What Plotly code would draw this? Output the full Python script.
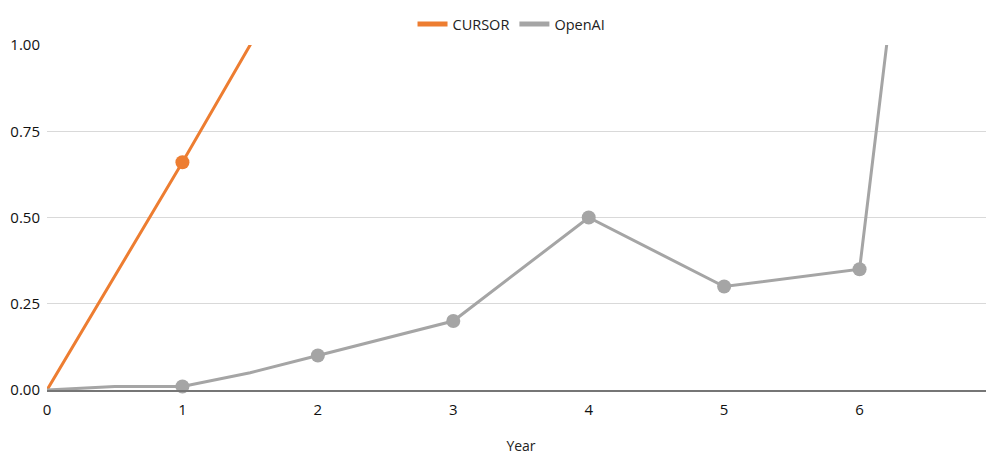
import plotly.graph_objects as go

cursor_x = [0, 1, 2]
cursor_y = [0, 0.66, 1.34]
cursor_marker_x = [1]
cursor_marker_y = [0.66]

openai_x = [0, 0.5, 1, 1.5, 2, 3, 4, 5, 6, 7]
openai_y = [0, 0.01, 0.01, 0.05, 0.10, 0.20, 0.50, 0.30, 0.35, 3.6]
openai_marker_x = [1, 2, 3, 4, 5, 6]
openai_marker_y = [0.01, 0.10, 0.20, 0.50, 0.30, 0.35]

x_ticks = [0, 1, 2, 3, 4, 5, 6, 7]

ORANGE = "#ED7D31"
GRAY = "#A5A5A5"
FONT = "Open Sans"

fig = go.Figure()
fig.add_trace(go.Scatter(x=cursor_x, y=cursor_y, mode="lines",
                         line=dict(color=ORANGE, width=3), showlegend=False, hoverinfo="skip"))
fig.add_trace(go.Scatter(x=cursor_marker_x, y=cursor_marker_y, mode="markers",
                         marker=dict(color=ORANGE, size=14), showlegend=False, cliponaxis=False))
fig.add_trace(go.Scatter(x=openai_x, y=openai_y, mode="lines",
                         line=dict(color=GRAY, width=3), showlegend=False, hoverinfo="skip"))
fig.add_trace(go.Scatter(x=openai_marker_x, y=openai_marker_y, mode="markers",
                         marker=dict(color=GRAY, size=14), showlegend=False, cliponaxis=False))
# legend entries
fig.add_trace(go.Scatter(x=[None], y=[None], mode="lines", name="CURSOR",
                         line=dict(color=ORANGE, width=5)))
fig.add_trace(go.Scatter(x=[None], y=[None], mode="lines", name="OpenAI",
                         line=dict(color=GRAY, width=5)))

# the page body adds an 8px margin, so the figure is sized to compensate
fig.update_layout(
    width=987, height=447,
    margin=dict(l=39, r=0, t=37, b=65, autoexpand=False),
    paper_bgcolor="white", plot_bgcolor="white",
    font=dict(family=FONT, size=15, color="#111"),
    legend=dict(orientation="h", x=0.49, xanchor="center", y=1.0, yanchor="top",
                yref="container", font=dict(size=14.5, color="#222"), itemwidth=30),
    showlegend=True,
)
fig.update_xaxes(range=[0, 7], tickmode="array", tickvals=x_ticks,
                 showgrid=False, zeroline=False, showline=True, automargin=False,
                 linecolor="#767676", linewidth=2, ticklabeloverflow="allow",
                 title=dict(text="Year", font=dict(size=14, color="#222"), standoff=30),
                 ticks="", ticklabelstandoff=5, tickfont=dict(size=15, color="#111"))
fig.update_yaxes(range=[0, 1], tickmode="linear", tick0=0, dtick=0.25, tickformat=".2f",
                 showgrid=True, gridcolor="#D9D9D9", gridwidth=1, zeroline=False, automargin=False,
                 showline=False, ticks="", ticklabelstandoff=6, tickfont=dict(size=15, color="#111"))

fig.write_html("out.html")
